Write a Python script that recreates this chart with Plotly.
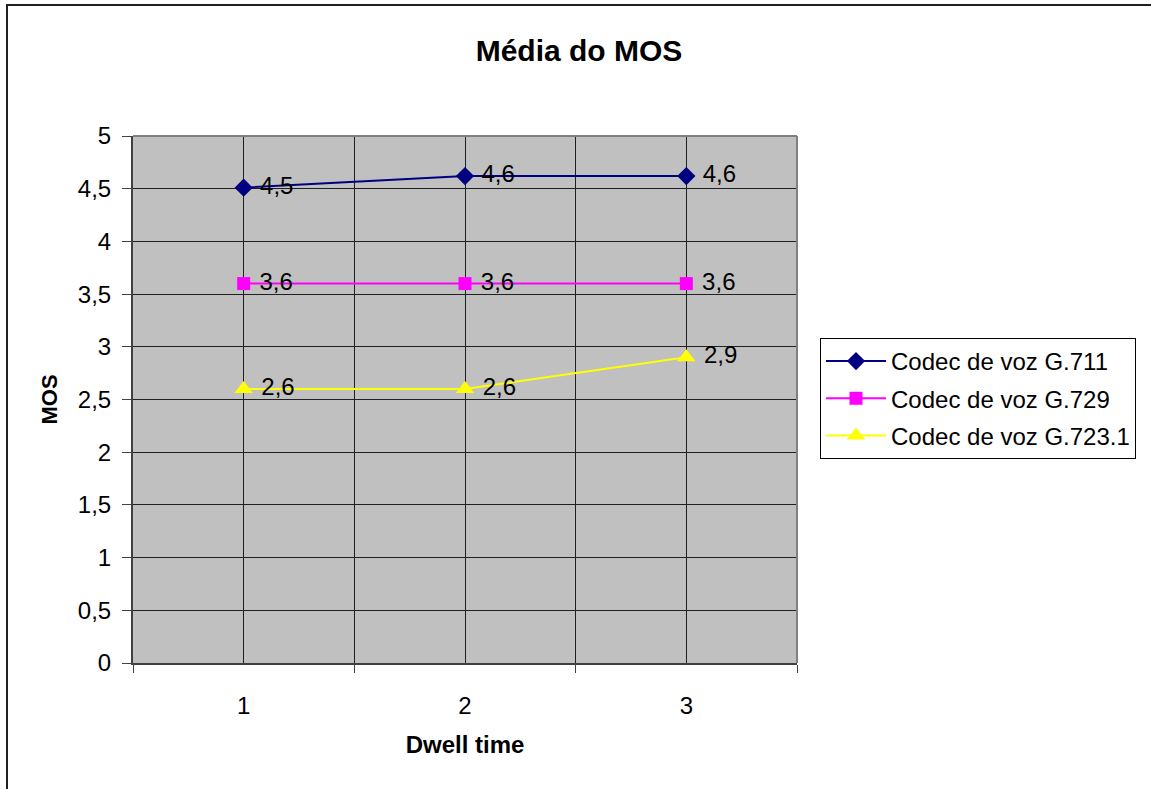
import plotly.graph_objects as go

# ---- data ----
dwell_time = [1, 2, 3]
series_names = ["Codec de voz G.711", "Codec de voz G.729", "Codec de voz G.723.1"]
g711 = [4.51, 4.62, 4.62]
g729 = [3.6, 3.6, 3.6]
g7231 = [2.6, 2.6, 2.9]
y_ticks = [0, 0.5, 1, 1.5, 2, 2.5, 3, 3.5, 4, 4.5, 5]

colors = ["#000080", "#FF00FF", "#FFFF00"]
symbols = ["diamond", "square", "triangle-up"]
sizes = [14, 13, 16]

FONT = "Liberation Sans, Arial, sans-serif"
FS = 24

fig = go.Figure()
for name, vals, c, s, sz in zip(series_names, [g711, g729, g7231], colors, symbols, sizes):
    fig.add_trace(go.Scatter(
        x=dwell_time, y=vals, name=name, legendgroup=name,
        mode="lines+markers+text",
        line=dict(color=c, width=2),
        marker=dict(symbol=s, size=sz, color=c, line=dict(width=0)),
        texttemplate="\u00a0%{y:.1f}", textposition="middle right",
        textfont=dict(size=FS, color="black", family=FONT),
        hoverinfo="skip",
    ))

W, H = 1151, 789
L, R, T, B = 133, 797, 136, 663
pw, ph = R - L, B - T

fig.update_layout(
    width=W, height=H, autosize=False,
    margin=dict(l=L, r=W - R, t=T, b=H - B, pad=0),
    paper_bgcolor="white", plot_bgcolor="#C0C0C0",
    separators=", ",
    font=dict(family=FONT, size=FS, color="black"),
    title=dict(text="<b>Média do MOS</b>", font=dict(size=30, family=FONT, color="black"),
               x=579 / W, xanchor="center", xref="container",
               y=1 - 50 / H, yanchor="middle", yref="container"),
    showlegend=True,
    legend=dict(x=(820 - L) / pw, xanchor="left", y=(B - 338) / ph, yanchor="top",
                bordercolor="black", borderwidth=1, bgcolor="white",
                font=dict(size=FS, family=FONT, color="black"),
                traceorder="grouped", tracegroupgap=3, itemwidth=60,
                entrywidth=259, entrywidthmode="pixels"),
    xaxis=dict(range=[0.5, 3.5], tickvals=dwell_time, ticks="", showgrid=True,
               gridcolor="#202020", gridwidth=1, zeroline=False,
               showline=True, linecolor="#404040", linewidth=2,
               ticklabelstandoff=20,
               tickfont=dict(size=FS, family=FONT, color="black"),
               minor=dict(tick0=0.5, dtick=1, ticks="outside", ticklen=8, tickwidth=1,
                          tickcolor="#404040", showgrid=True, gridcolor="#202020", gridwidth=1),
               title=dict(text="<b>Dwell time</b>", font=dict(size=FS, family=FONT, color="black"),
                          standoff=18)),
    yaxis=dict(range=[0, 5], tickvals=y_ticks, ticks="outside", ticklen=9, tickwidth=1,
               tickcolor="#404040", showgrid=True, gridcolor="#202020", gridwidth=1,
               zeroline=False, showline=True, linecolor="#404040", linewidth=2,
               ticklabelstandoff=6,
               tickfont=dict(size=FS, family=FONT, color="black"),
               title=dict(text="<b>MOS</b>", font=dict(size=22, family=FONT, color="black"),
                          standoff=14)),
    shapes=[
        # gray plot-area border (top and right)
        dict(type="line", xref="paper", yref="paper", x0=0, x1=1, y0=1, y1=1,
             line=dict(color="#808080", width=2), layer="above"),
        dict(type="line", xref="paper", yref="paper", x0=1, x1=1, y0=0, y1=1,
             line=dict(color="#808080", width=2), layer="above"),
        # outer chart frame
        dict(type="rect", xref="paper", yref="paper",
             x0=(7 - L) / pw, x1=(W + 20 - L) / pw,
             y0=(B - (H + 20)) / ph, y1=(B - 5) / ph,
             line=dict(color="#202020", width=2), layer="above"),
    ],
)

fig.write_html("out.html")
